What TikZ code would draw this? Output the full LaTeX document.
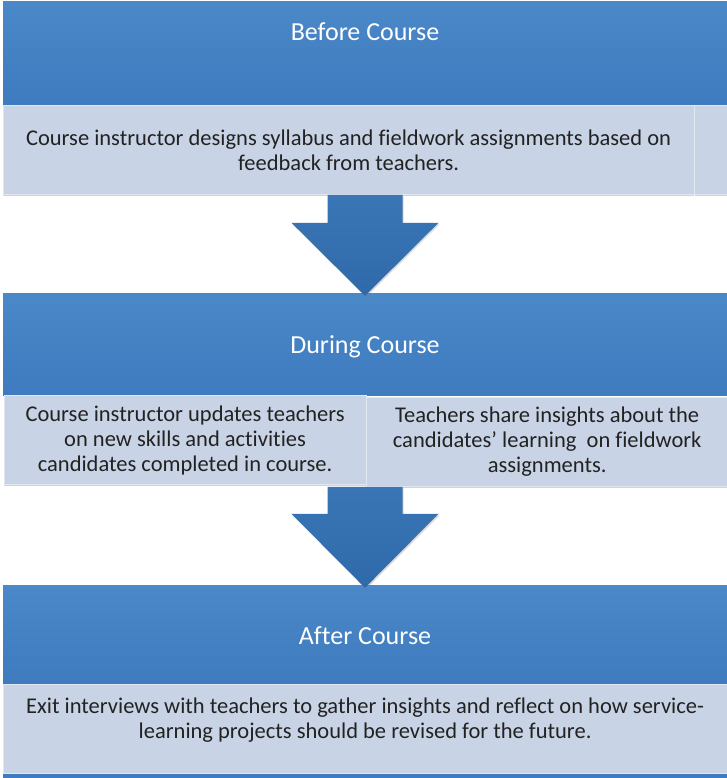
\documentclass[tikz,border=0pt]{standalone}
\usepackage{fontspec}
\setmainfont{Carlito}[Ligatures=NoCommon]
\usetikzlibrary{positioning, calc, shadows}

\definecolor{headtop}{HTML}{4A88C8}
\definecolor{headbot}{HTML}{3E7BBF}
\definecolor{detfill}{HTML}{C8D4E6}
\definecolor{arrowtop}{HTML}{3A76B6}
\definecolor{arrowbot}{HTML}{2F69AA}
\definecolor{bodytext}{HTML}{222222}

\begin{document}
\begin{tikzpicture}[
    x=1pt, y=1pt,
    headbox/.style={rectangle, minimum width=724pt, inner sep=0pt, top color=headtop, bottom color=headbot, text=white, font=\fontsize{26}{30}\selectfont, text height=19pt, text depth=0pt},
    detbox/.style={rectangle, minimum height=89pt, inner sep=0pt, fill=detfill, draw=white!45!detfill, line width=0.6pt, text=bodytext, align=center, font=\fontsize{22.5}{25}\selectfont, drop shadow={shadow xshift=0pt, shadow yshift=-1.5pt, opacity=0.35}},
    dettext/.style={inner sep=0pt, text=bodytext, align=center, font=\fontsize{22.5}{25}\selectfont},
    blockarrow/.style={top color=arrowtop, bottom color=arrowbot, drop shadow={shadow xshift=1pt, shadow yshift=-1.5pt, opacity=0.3}}
]
\useasboundingbox (0,0) rectangle (727,-778);

% Before course
\node[headbox, minimum height=103pt, text depth=45pt] (head1) at (365,-53.5) {Before Course};
\node[detbox, minimum width=691pt, anchor=north west] (det1) at (head1.south west) {Course instructor designs syllabus and fieldwork assignments based on\\feedback from teachers.};
\node[detbox, minimum width=33pt, anchor=north west] (det1r) at (det1.north east) {};

% During course
\node[headbox, minimum height=102pt] (head2) at (365,-344) {During Course};
\node[detbox, minimum width=362pt, anchor=north west] (det2l) at ([xshift=1pt]head2.south west) {Course instructor updates teachers\\on new skills and activities\\candidates completed in course.};
\node[detbox, minimum width=361pt, anchor=north west] (det2r) at ([yshift=-2pt]det2l.north east) {Teachers share insights about the\\candidates’ learning~ on fieldwork\\assignments.};

% After course
\node[headbox, minimum height=99pt] (head3) at (365,-634.5) {After Course};
\node[detbox, minimum width=724pt, anchor=north west] (det3) at (head3.south west) {};
\node[dettext, anchor=north] (t3) at ([yshift=-13pt]det3.north) {Exit interviews with teachers to gather insights and reflect on how service-\\learning projects should be revised for the future.};
\fill[headbot] (det3.south west) rectangle ([yshift=-5pt]det3.south east);

% Block arrows
\coordinate (a1top) at (head1.south |- det1.south);
\coordinate (a1tip) at ([yshift=-3pt]head2.north);
\path[blockarrow] ([xshift=-37.5pt]a1top) -- ([xshift=37.5pt]a1top) -- ($(a1tip)+(37.5,73)$) -- ($(a1tip)+(73.5,73)$) -- (a1tip) -- ($(a1tip)+(-73.5,73)$) -- ($(a1tip)+(-37.5,73)$) -- cycle;

\coordinate (a2top) at (head2.south |- det2r.south);
\coordinate (a2tip) at ([yshift=-3pt]head3.north);
\path[blockarrow] ([xshift=-37.5pt]a2top) -- ([xshift=37.5pt]a2top) -- ($(a2tip)+(37.5,74)$) -- ($(a2tip)+(73.5,74)$) -- (a2tip) -- ($(a2tip)+(-73.5,74)$) -- ($(a2tip)+(-37.5,74)$) -- cycle;

\end{tikzpicture}
\end{document}
